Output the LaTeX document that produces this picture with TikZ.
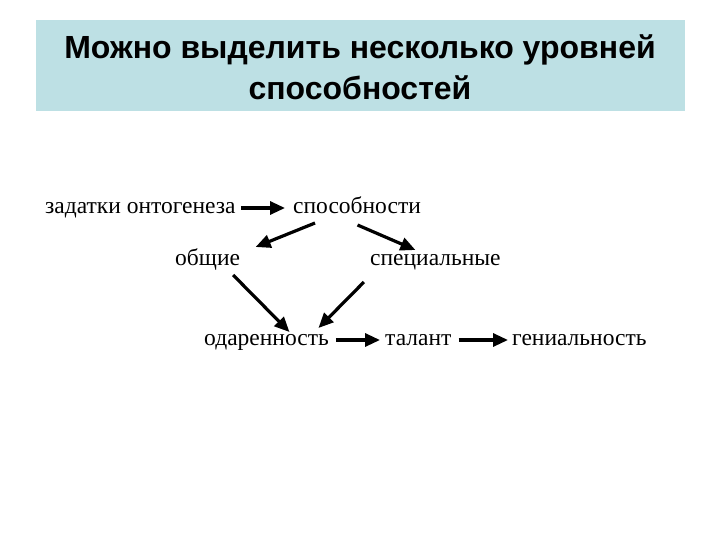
\documentclass[tikz,border=0pt]{standalone}
\usepackage{fontspec}
\setmainfont{Liberation Serif}
\newfontfamily\titlefont{Liberation Sans}
\usetikzlibrary{arrows.meta,calc}
\definecolor{titlebg}{RGB}{189,224,228}
\tikzset{
  lbl/.style={inner sep=0pt, font=\fontsize{23.5}{28}\selectfont, text height=10.5pt, text depth=0pt, anchor=west},
  arr/.style={line width=3.2pt, -{Triangle[length=15pt,width=13pt]}},
}
\begin{document}
\begin{tikzpicture}[x=1pt,y=-1pt]
\useasboundingbox (0,0) rectangle (720,540);
\fill[white] (0,0) rectangle (720,540);
\node[fill=titlebg, minimum width=649pt, minimum height=91pt, anchor=north west, inner sep=0pt] (title) at (36,20) {};
\node[font=\titlefont\bfseries\fontsize{32}{41}\selectfont, align=center] (tt) at (360,67) {Можно выделить несколько уровней\\способностей};
\node[lbl] (zad) at (45,208) {задатки онтогенеза};
\node[lbl] (sp) at (293,208) {способности};
\node[lbl] (ob) at (175,260) {общие};
\node[lbl] (spec) at (370,260) {специальные};
\node[lbl] (od) at (204,340) {одаренность};
\node[lbl] (tal) at (385,340) {талант};
\node[lbl] (gen) at (512,340) {гениальность};
\draw[arr, shorten <=5pt, shorten >=8pt] (zad.east) -- (sp.west);
\draw[arr] ($(sp.center)+(-42,15)$) -- ($(ob.center)+(48,-13)$);
\draw[arr] ($(sp.center)+(0.5,17)$) -- ($(spec.center)+(-20,-10)$);
\draw[arr] ($(ob.center)+(25.5,15)$) -- ($(od.center)+(23,-8)$);
\draw[arr] ($(spec.center)+(-71.5,22)$) -- ($(od.center)+(52,-12)$);
\draw[arr, shorten <=7pt, shorten >=5pt] (od.east) -- (tal.west);
\draw[arr, shorten <=7pt, shorten >=4pt] (tal.east) -- (gen.west);
\end{tikzpicture}
\end{document}
